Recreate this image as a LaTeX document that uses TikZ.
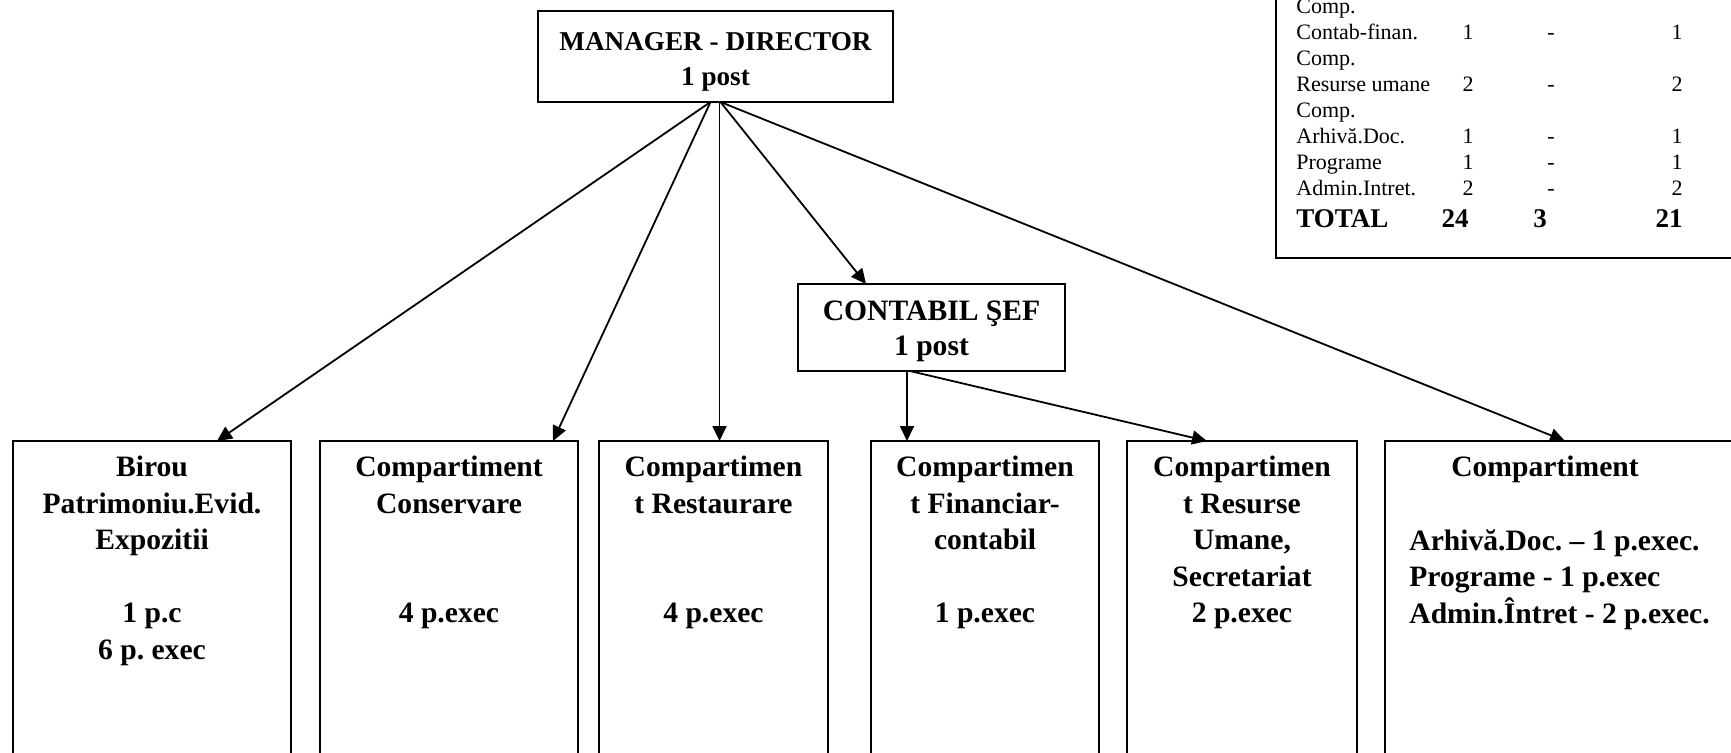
\documentclass[tikz,border=0pt]{standalone}
\usepackage{fontspec}
\setmainfont{Liberation Serif}
\usetikzlibrary{arrows.meta,calc,positioning}

\tikzset{
  postbox/.style={draw, line width=0.9pt, inner sep=0pt, outer sep=0pt},
  posttext/.style={inner sep=0pt, align=center,
    font=\bfseries\fontsize{14.8}{17.5}\selectfont},
  unitbox/.style={draw, line width=0.9pt, inner sep=0pt, outer sep=0pt, anchor=north,
    minimum height=179.5pt},
  unittext/.style={anchor=north, inner sep=0pt, align=center,
    font=\bfseries\fontsize{14.8}{18.25}\selectfont},
  tabtext/.style={inner sep=0pt, font=\fontsize{11}{13}\selectfont,
    text height=7.5pt, text depth=2.5pt},
  tabtotal/.style={tabtext, font=\bfseries\fontsize{13.5}{15}\selectfont},
  link/.style={->, line width=0.9pt},
}

\begin{document}
\begin{tikzpicture}[>={Triangle[length=7.5pt,width=7pt]}, x=0.5pt, y=-0.5pt]
  \useasboundingbox (0,0) rectangle (1731,752);
  \clip (0,0) rectangle (1731,752);

  % conducere
  \node[postbox, minimum width=177.5pt, minimum height=45.5pt] (mgr) at (715.5,56.5) {};
  \node[posttext, font=\bfseries\fontsize{13.6}{17.5}\selectfont] (mgrT)
    at ($(mgr.center)+(0,5)$) {MANAGER - DIRECTOR\\1 post};
  \node[postbox, minimum width=133.5pt, minimum height=43.5pt] (sef) at (931.5,327.5) {};
  \node[posttext] (sefT) at ($(sef.center)+(0,4)$) {CONTABIL ŞEF\\1 post};

  % compartimente (continue below the page)
  \node[unitbox, minimum width=139pt] (birou) at (152,441) {};
  \node[unitbox, minimum width=129pt] (conserv) at (449,441) {};
  \node[unitbox, minimum width=114.5pt] (restaur) at (713.5,441) {};
  \node[unitbox, minimum width=114pt] (financ) at (985,441) {};
  \node[unitbox, minimum width=115pt] (resurse) at (1242,441) {};
  \node[unitbox, minimum width=210pt, anchor=north west] (arhiva) at (1385,441) {};

  \node[unittext] (birouT) at ($(birou.north)+(0,15)$)
    {Birou\\Patrimoniu.Evid.\\Expozitii\\~\\1 p.c\\6 p.\ exec};
  \node[unittext] (conservT) at ($(conserv.north)+(0,15)$)
    {Compartiment\\Conservare\\~\\~\\4 p.exec};
  \node[unittext] (restaurT) at ($(restaur.north)+(0,15)$)
    {Compartimen\\t Restaurare\\~\\~\\4 p.exec};
  \node[unittext] (financT) at ($(financ.north)+(0,15)$)
    {Compartimen\\t Financiar-\\contabil\\~\\1 p.exec};
  \node[unittext] (resurseT) at ($(resurse.north)+(0,15)$)
    {Compartimen\\t Resurse\\Umane,\\Secretariat\\2 p.exec};
  \node[unittext] (arhivaT) at (1545,456) {Compartiment};
  \node[unittext, anchor=north west, align=left] (arhivaL) at (1409,529)
    {Arhivă.Doc.\ -- 1 p.exec.\\Programe - 1 p.exec\\Admin.Întret - 2 p.exec.};

  % legaturi
  \draw[link] ($(mgr.south)+(-5,0)$) -- ($(birou.north)+(65,0)$);
  \draw[link] ($(mgr.south)+(-5,0)$) -- ($(conserv.north)+(104,0)$);
  \draw[link] ($(mgr.south)+(4,0)$) -- ($(restaur.north)+(6,0)$);
  \draw[link] ($(mgr.south)+(5,0)$) -- ($(sef.north)+(-65.5,0)$);
  \draw[link] ($(mgr.south)+(5,0)$) -- ($(arhiva.north west)+(180,0)$);
  \draw[link] ($(sef.south)+(-24.5,0)$) -- ($(financ.north)+(-78,0)$);
  \draw[link] ($(sef.south)+(-21.5,0)$) -- ($(resurse.north)+(-35,0)$);

  % tabel posturi
  \node[draw, line width=0.9pt, inner sep=0pt, outer sep=0pt, anchor=north west,
    minimum width=262pt, minimum height=139pt] (tabel) at (1276,-20) {};
  \foreach \lbl/\yy [count=\i] in {Comp./8, Contab-finan./34, Comp./60,
      Resurse umane/86, Comp./112, Arhivă.Doc./138, Programe/164, Admin.Intret./190}
    \node[tabtext, anchor=west] (rand\i) at (1296,\yy) {\lbl};
  \foreach \a/\b/\c/\yy [count=\i] in {1/-/1/34, 2/-/2/86, 1/-/1/138,
      1/-/1/164, 2/-/2/190} {
    \node[tabtext] (tot\i) at (1468,\yy) {\a};
    \node[tabtext] (ocup\i) at (1551,\yy) {\b};
    \node[tabtext] (vac\i) at (1677,\yy) {\c};
  }
  \node[tabtotal, anchor=west] (total) at (1296,222) {TOTAL};
  \node[tabtotal] (totA) at (1455,222) {24};
  \node[tabtotal] (totB) at (1540,222) {3};
  \node[tabtotal] (totC) at (1669,222) {21};
\end{tikzpicture}
\end{document}
